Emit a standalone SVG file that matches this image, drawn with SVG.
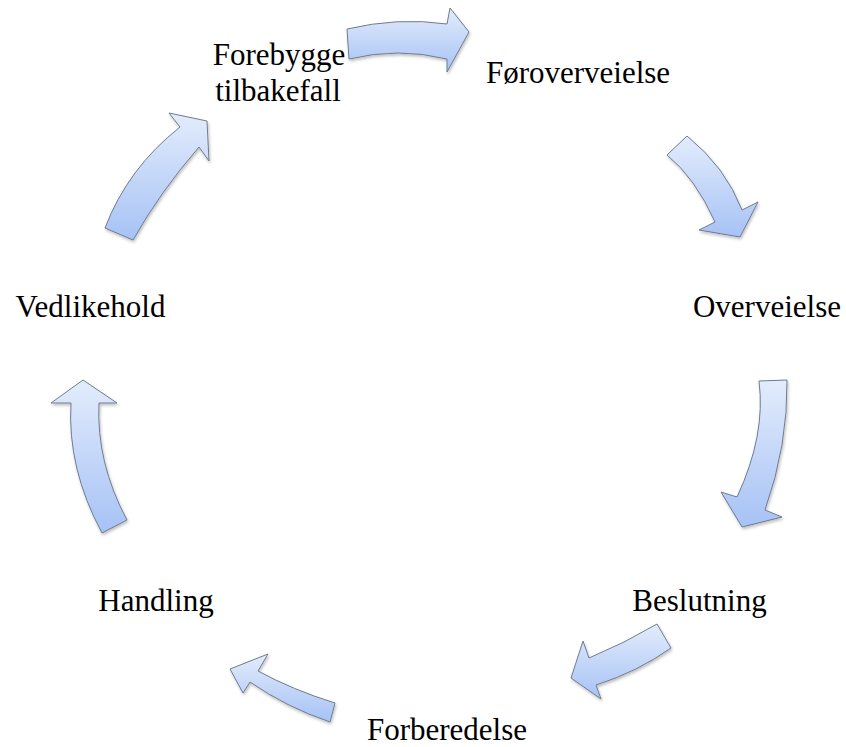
<svg xmlns="http://www.w3.org/2000/svg" width="846" height="747" viewBox="0 0 846 747">
  <defs>
    <linearGradient id="fill" x1="0" y1="0" x2="0" y2="1">
      <stop offset="0" stop-color="#e3ecfc"/>
      <stop offset="1" stop-color="#a6c2f5"/>
    </linearGradient>
    <filter id="shadow" x="-20%" y="-20%" width="140%" height="140%">
      <feDropShadow dx="1" dy="2" stdDeviation="1.5" flood-color="#000" flood-opacity="0.25"/>
    </filter>
  </defs>
  <style>
    .arrow { fill: url(#fill); stroke: #6f7c90; stroke-width: 1; stroke-linejoin: round; filter: url(#shadow); }
    text { font-family: 'Liberation Serif', 'Times New Roman', serif; font-size: 31px; fill: #000; text-anchor: middle; }
  </style>
  <rect width="846" height="747" fill="#fff"/>
  <g id="connectors">
    <path class="arrow" d="M347,29 Q398,17 447,24 L450,8 L469,32 L447,72 L447,59 Q398,47 349,59 Z"/>
    <path class="arrow" d="M687,136 Q725.5,167 742,210 L758,202 L740,237 L699,230 L715,222 Q695,177.5 667,155 Z"/>
    <path class="arrow" d="M787,380 Q788,445 765,510 L782,517 L742,527 L721,492 L737,497 Q766,435 759,381 Z"/>
    <path class="arrow" d="M657,624 Q625,643 589,658 L583,641 L571,678 L601,699 L596,685 Q637,672 671,648 Z"/>
    <path class="arrow" d="M335,703 Q293,690 258,671 L268,654 L230,669 L243,693 L250,682 Q286,707 330,722 Z"/>
    <path class="arrow" d="M102,533 Q67,468 71,403 L51,403 L83,380 L117,403 L99,403 Q96,462 127,520 Z"/>
    <path class="arrow" d="M105,228 Q127.5,168.5 180,127 L169,113 L207,121 L209,161 L199,147 Q160,192 133,240 Z"/>
  </g>
  <g id="node-foroverveielse"><text x="578" y="83">Føroverveielse</text></g>
  <g id="node-overveielse"><text x="767" y="317">Overveielse</text></g>
  <g id="node-beslutning"><text x="699.5" y="611">Beslutning</text></g>
  <g id="node-forberedelse"><text x="447" y="740">Forberedelse</text></g>
  <g id="node-handling"><text x="156" y="611">Handling</text></g>
  <g id="node-vedlikehold"><text x="90.5" y="317">Vedlikehold</text></g>
  <g id="node-forebygge"><text x="279" y="65">Forebygge</text><text x="278" y="101">tilbakefall</text></g>
</svg>
